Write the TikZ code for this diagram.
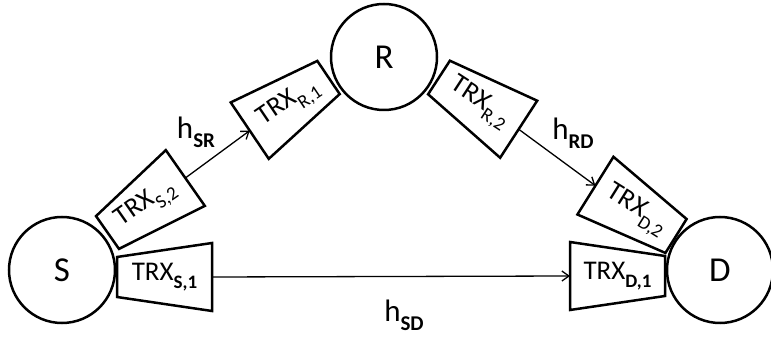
\documentclass[tikz,border=0pt]{standalone}
\usepackage{fontspec}
\setmainfont{Carlito}
\usetikzlibrary{arrows.meta}
\newcommand\trxsub[1]{\raisebox{-0.32em}{\fontsize{19}{19}\selectfont #1}}
\newcommand\hsub[1]{\raisebox{-0.3em}{\fontsize{21}{21}\selectfont\bfseries #1}}
\tikzset{
  station/.style={circle, draw, line width=2.5pt, minimum size=106pt, inner sep=0pt, font=\fontsize{35}{35}\selectfont},
  trxshape/.style={line width=2.5pt},
  link/.style={line width=1.3pt, -{Straight Barb[length=7pt,width=10pt,line width=1.3pt]}},
  trxlabel/.style={font=\fontsize{27}{27}\selectfont, inner sep=0pt},
  hlabel/.style={font=\fontsize{31}{31}\selectfont, inner sep=0pt},
  pics/trx/.style={code={
    \draw[trxshape] (0,-20) -- (95,-34) -- (95,34) -- (0,20) -- cycle;
    \coordinate (-n) at (0,0);
    \coordinate (-c) at (47.5,0);
    \coordinate (-w) at (95,0);
  }}
}
\begin{document}
\begin{tikzpicture}[x=1pt,y=1pt]
\useasboundingbox (0,0) rectangle (771,337);
\node[station] (S) at (62,67) {S};
\node[station] (R) at (384,280) {R};
\node[station] (D) at (720,67) {D};

\pic[rotate=0] (s1) at (117,60) {trx};
\pic[rotate=35] (s2) at (107.5,104.5) {trx};
\pic[rotate=214] (r1) at (328.5,259.5) {trx};
\pic[rotate=-33] (r2) at (439,259.5) {trx};
\pic[rotate=148] (d2) at (676,101) {trx};
\pic[rotate=180] (d1) at (665,61) {trx};

\node[trxlabel] (ls1) at (s1-c) {TRX\trxsub{\bfseries S,1}};
\node[trxlabel, rotate=35] (ls2) at (s2-c) {TRX\trxsub{S,2}};
\node[trxlabel, rotate=34] (lr1) at (r1-c) {TRX\trxsub{R,1}};
\node[trxlabel, rotate=-33] (lr2) at (r2-c) {TRX\trxsub{R,2}};
\node[trxlabel, rotate=-32] (ld2) at (d2-c) {TRX\trxsub{D,2}};
\node[trxlabel] (ld1) at (d1-c) {TRX\trxsub{\bfseries D,1}};

\draw[link] (s1-w) -- (d1-w);
\draw[link] (s2-w) -- (r1-w);
\draw[link] (r2-w) -- (d2-w);

\node[hlabel] (hsr) at (196,205) {h\hsub{SR}};
\node[hlabel] (hrd) at (573,204) {h\hsub{RD}};
\node[hlabel] (hsd) at (404,22) {h\hsub{SD}};
\end{tikzpicture}
\end{document}
